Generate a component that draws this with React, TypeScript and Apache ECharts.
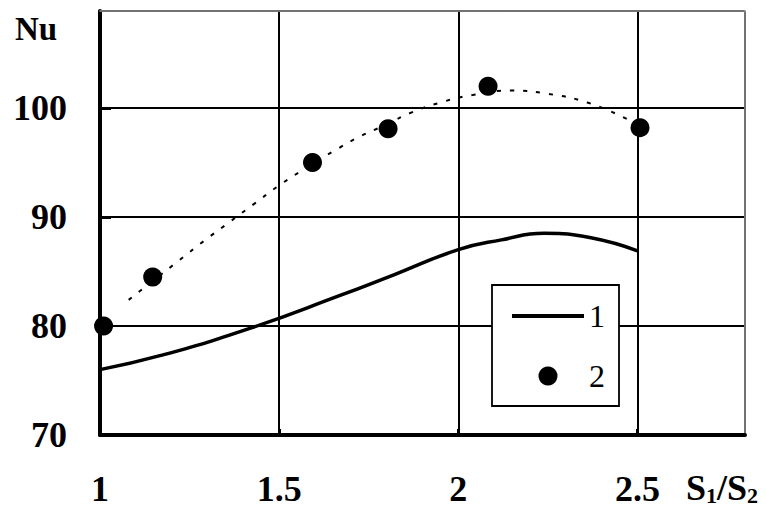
import React, { useEffect, useRef } from "react";
import * as echarts from "echarts";

const xTickLabels = [1, 1.5, 2, 2.5];
const yTickLabels = [70, 80, 90, 100];

// Curve 1 (solid line)
const curve1: [number, number][] = [
  [1.0, 76.0], [1.17, 77.3], [1.42, 79.8], [1.67, 82.8], [1.82, 84.7],
  [2.0, 87.0], [2.12, 87.9], [2.24, 88.5], [2.37, 88.1], [2.5, 86.9],
];

// Series 2 (points)
const points2: [number, number][] = [
  [1.01, 80.0], [1.147, 84.5], [1.593, 95.0], [1.804, 98.1], [2.083, 102.0], [2.507, 98.2],
];

// Dotted fit curve through series 2
const fit2: [number, number][] = [
  [1.08, 82.4], [1.15, 84.2], [1.22, 86.0], [1.29, 87.8], [1.36, 89.5], [1.43, 91.2],
  [1.5, 92.9], [1.58, 94.6], [1.65, 96.0], [1.72, 97.3], [1.8, 98.5], [1.87, 99.6],
  [1.95, 100.5], [2.04, 101.2], [2.15, 101.6], [2.25, 101.3], [2.36, 100.5], [2.47, 99.0],
];

const X_MIN = 1;
const X_MAX = 2.8;
const Y_MIN = 70;
const Y_MAX = 108.9;

const SERIF = '"Liberation Serif", "Times New Roman", "DejaVu Serif", serif';

const near = (v: number, list: number[]) => list.some((t) => Math.abs(t - v) < 1e-6);

export default function App() {
  const ref = useRef<HTMLDivElement>(null);
  useEffect(() => {
    if (!ref.current) return;
    const chart = echarts.init(ref.current, undefined, { renderer: "svg" });
    chart.setOption({
      animation: false,
      backgroundColor: "#ffffff",
      grid: { left: 100, right: 21, top: 11, bottom: 76, containLabel: false },
      legend: {
        data: [
          { name: "1", itemStyle: { opacity: 0 }, lineStyle: { width: 4, color: "#000" } },
          { name: "2", itemStyle: { color: "#000", opacity: 1 } },
        ],
        orient: "vertical",
        left: 492,
        top: 285,
        padding: [15, 14, 14, 18],
        itemGap: 28,
        itemWidth: 72,
        itemHeight: 19,
        selectedMode: false,
        backgroundColor: "#ffffff",
        borderColor: "#000000",
        borderWidth: 1.8,
        borderRadius: 0,
        textStyle: { fontSize: 32, fontFamily: SERIF, color: "#000", lineHeight: 32 },
      },
      xAxis: [
        {
          type: "value",
          min: X_MIN,
          max: X_MAX,
          interval: 0.5,
          axisLine: { show: true, onZero: false, lineStyle: { color: "#000", width: 4 } },
          axisTick: { show: true, inside: true, length: 6, lineStyle: { color: "#000", width: 3 } },
          axisLabel: {
            show: true,
            margin: 36,
            fontSize: 36,
            fontWeight: "bold",
            fontFamily: SERIF,
            color: "#000",
            showMaxLabel: false,
            formatter: (v: number) => (near(v, xTickLabels) ? String(v) : ""),
          },
          splitLine: { show: true, lineStyle: { color: "#000", width: 2 } },
        },
        {
          type: "value",
          position: "top",
          min: X_MIN,
          max: X_MAX,
          axisLine: { show: true, onZero: false, lineStyle: { color: "#999", width: 1.5 } },
          axisTick: { show: false },
          axisLabel: { show: false },
          splitLine: { show: false },
        },
      ],
      yAxis: [
        {
          type: "value",
          min: Y_MIN,
          max: Y_MAX,
          interval: 10,
          axisLine: { show: true, onZero: false, lineStyle: { color: "#000", width: 4 } },
          axisTick: { show: true, inside: true, length: 11, lineStyle: { color: "#000", width: 3 } },
          axisLabel: {
            show: true,
            margin: 33,
            fontSize: 36,
            fontWeight: "bold",
            fontFamily: SERIF,
            color: "#000",
            padding: [8, 0, 0, 0],
            showMaxLabel: false,
            formatter: (v: number) => (near(v, yTickLabels) ? String(v) : ""),
          },
          splitLine: { show: true, lineStyle: { color: "#000", width: 2 } },
        },
        {
          type: "value",
          position: "right",
          min: Y_MIN,
          max: Y_MAX,
          axisLine: { show: true, onZero: false, lineStyle: { color: "#999", width: 1.5 } },
          axisTick: { show: false },
          axisLabel: { show: false },
          splitLine: { show: false },
        },
      ],
      graphic: [
        {
          type: "text",
          left: 15,
          top: 12,
          style: { text: "Nu", fontSize: 33, fontWeight: "bold", fontFamily: SERIF, fill: "#000" },
        },
        {
          type: "text",
          left: 686,
          top: 470,
          style: {
            text: "{s|S}{b|1}{s|/S}{b|2}",
            rich: {
              s: { fontSize: 36, fontWeight: "bold", fontFamily: SERIF, fill: "#000", lineHeight: 36 },
              b: { fontSize: 22, fontWeight: "bold", fontFamily: SERIF, fill: "#000", verticalAlign: "bottom" },
            },
          },
        },
      ],
      series: [
        {
          name: "fit",
          type: "line",
          data: fit2,
          smooth: true,
          symbol: "none",
          silent: true,
          lineStyle: { color: "#000", width: 2, type: [4, 9] },
          z: 2,
        },
        {
          name: "1",
          type: "line",
          data: curve1,
          smooth: true,
          symbol: "none",
          lineStyle: { color: "#000", width: 3.5 },
          itemStyle: { color: "#000" },
          z: 3,
        },
        {
          name: "2",
          type: "scatter",
          data: points2,
          symbol: "circle",
          symbolSize: 19,
          itemStyle: { color: "#000", opacity: 1 },
          clip: false,
          z: 4,
        },
      ],
    });
    return () => chart.dispose();
  }, []);
  return (
    <div
      ref={ref}
      style={{ position: "fixed", left: 0, top: 0, width: 766, height: 511, background: "#fff" }}
    />
  );
}
